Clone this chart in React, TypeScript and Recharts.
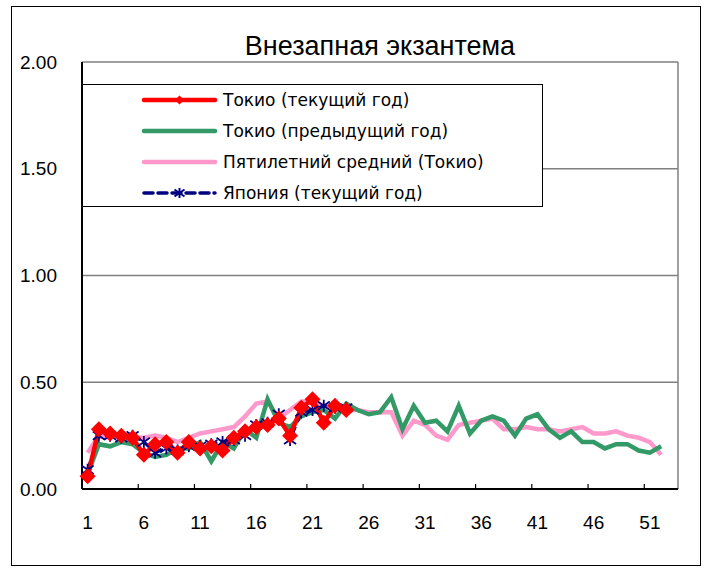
import React from 'react';
import { LineChart, Line, XAxis, YAxis, CartesianGrid, Legend } from 'recharts';

// ---- data ----
const WEEK_COUNT = 53;
const weeks: number[] = Array.from({ length: WEEK_COUNT }, (_, i) => i + 1);

const tokyoCurrent: number[] = [
  0.06, 0.28, 0.26, 0.25, 0.24, 0.16, 0.21, 0.22, 0.17, 0.22, 0.19, 0.2, 0.18, 0.24, 0.27, 0.29,
  0.3, 0.33, 0.25, 0.38, 0.42, 0.31, 0.39, 0.37,
];
const tokyoPrevious: number[] = [
  0.07, 0.21, 0.2, 0.22, 0.21, 0.17, 0.15, 0.16, 0.19, 0.19, 0.22, 0.13, 0.22, 0.19, 0.28, 0.24,
  0.42, 0.31, 0.29, 0.34, 0.36, 0.37, 0.33, 0.4, 0.37, 0.35, 0.36, 0.43, 0.28, 0.39, 0.31, 0.32,
  0.27, 0.39, 0.26, 0.32, 0.34, 0.32, 0.25, 0.33, 0.35, 0.28, 0.24, 0.27, 0.22, 0.22, 0.19, 0.21,
  0.21, 0.18, 0.17, 0.2,
];
const fiveYearAvg: number[] = [
  0.17, 0.25, 0.24, 0.26, 0.24, 0.24, 0.25, 0.24, 0.22, 0.24, 0.26, 0.27, 0.28, 0.29, 0.34, 0.4,
  0.41, 0.33, 0.37, 0.41, 0.41, 0.39, 0.38, 0.37, 0.37, 0.36, 0.36, 0.36, 0.25, 0.32, 0.3, 0.25,
  0.23, 0.3, 0.31, 0.32, 0.33, 0.28, 0.28, 0.29, 0.28, 0.28, 0.27, 0.28, 0.29, 0.26, 0.26, 0.27,
  0.25, 0.24, 0.22, 0.16,
];
const japanCurrent: number[] = [
  0.09, 0.25, 0.25, 0.24, 0.25, 0.22, 0.17, 0.19, 0.18, 0.2, 0.2, 0.21, 0.22, 0.23, 0.25, 0.3,
  0.31, 0.35, 0.23, 0.36, 0.37, 0.39, 0.38, 0.38,
];
const yTicks: number[] = [0, 0.5, 1, 1.5, 2];

const TITLE = 'Внезапная экзантема';
const NAME_CUR = 'Токио (текущий год)';
const NAME_PREV = 'Токио (предыдущий год)';
const NAME_AVG = 'Пятилетний средний (Токио)';
const NAME_JP = 'Япония (текущий год)';
const LEGEND_ORDER = ['cur', 'prev', 'avg', 'jp'];

const data = weeks.map((w, i) => ({
  week: w,
  cur: i < tokyoCurrent.length ? tokyoCurrent[i] : null,
  prev: i < tokyoPrevious.length ? tokyoPrevious[i] : null,
  avg: i < fiveYearAvg.length ? fiveYearAvg[i] : null,
  jp: i < japanCurrent.length ? japanCurrent[i] : null,
}));

// ---- layout ----
const W = 711;
const H = 569;
const PLOT_LEFT = 82;
const PLOT_RIGHT = 678;
const PLOT_TOP = 62;
const PLOT_BOTTOM = 489;
const Y_AXIS_W = 60;
const X_AXIS_H = 40;
const HALF_BAND = (PLOT_RIGHT - PLOT_LEFT) / WEEK_COUNT / 2;

const RED = '#FF0000';
const GREEN = '#339966';
const PINK = '#FF99CC';
const NAVY = '#000080';

const diamondPath = (cx: number, cy: number, r: number) =>
  `M${cx},${cy - r} L${cx + r},${cy} L${cx},${cy + r} L${cx - r},${cy} Z`;

const DiamondDot = (props: any) => {
  const { cx, cy, index } = props;
  if (cx == null || cy == null || props.value == null) return <g key={`d${index}`} />;
  return <path key={`d${index}`} d={diamondPath(cx, cy, 8)} fill={RED} stroke="none" />;
};

const starPath = (cx: number, cy: number, r: number) =>
  `M${cx},${cy - r} L${cx},${cy + r} M${cx - r},${cy - r * 0.7} L${cx + r},${cy + r * 0.7} M${cx - r},${cy + r * 0.7} L${cx + r},${cy - r * 0.7}`;

const StarDot = (props: any) => {
  const { cx, cy, index } = props;
  if (cx == null || cy == null || props.value == null) return <g key={`s${index}`} />;
  return <path key={`s${index}`} d={starPath(cx, cy, 6)} stroke={NAVY} strokeWidth={1.8} fill="none" />;
};

const XTick = (props: any) => {
  const { x, payload } = props;
  const tx = x - HALF_BAND;
  return (
    <g>
      <line x1={tx} x2={tx} y1={PLOT_BOTTOM} y2={PLOT_BOTTOM - 5} stroke="#000" strokeWidth={1.2} />
      <text
        x={x}
        y={PLOT_BOTTOM + 33}
        textAnchor="middle"
        dominantBaseline="central"
        fontFamily="'Liberation Sans', Arial, sans-serif"
        fontSize={19}
        fill="#000"
      >
        {payload.value}
      </text>
    </g>
  );
};

const SERIES_STYLE: Record<string, any> = {
  cur: { color: RED, width: 4.5, dash: undefined, marker: 'diamond' },
  prev: { color: GREEN, width: 4.5, dash: undefined, marker: 'none' },
  avg: { color: PINK, width: 4.5, dash: undefined, marker: 'none' },
  jp: { color: NAVY, width: 3.5, dash: '9 5', marker: 'star' },
};

const LegendContent = (props: any) => {
  const payload = [...(props.payload || [])].sort(
    (a: any, b: any) => LEGEND_ORDER.indexOf(a.dataKey) - LEGEND_ORDER.indexOf(b.dataKey)
  );
  return (
    <div style={{ position: 'relative', width: '100%', height: '100%' }}>
      {payload.map((p: any, i: number) => {
        const s = SERIES_STYLE[p.dataKey];
        const cy = 15 + 31 * i;
        return (
          <div key={p.dataKey} style={{ position: 'absolute', left: 0, top: cy - 12, height: 24, width: '100%' }}>
            <svg width={140} height={24} style={{ position: 'absolute', left: 0, top: 0 }}>
              <line
                x1={61}
                x2={132}
                y1={12}
                y2={12}
                stroke={s.color}
                strokeWidth={s.width}
                strokeDasharray={s.dash}
                strokeLinecap="round"
              />
              {s.marker === 'diamond' && <path d={diamondPath(96.5, 12, 4.5)} fill={s.color} />}
              {s.marker === 'star' && (
                <path d={starPath(96.5, 12, 5)} stroke={s.color} strokeWidth={2} fill="none" />
              )}
            </svg>
            <span
              style={{
                position: 'absolute',
                left: 140,
                top: 0,
                lineHeight: '24px',
                fontFamily: "'DejaVu Sans', sans-serif",
                fontSize: 17,
                color: '#000',
                whiteSpace: 'nowrap',
              }}
            >
              {p.value}
            </span>
          </div>
        );
      })}
    </div>
  );
};

export default function App() {
  return (
    <div style={{ position: 'absolute', left: 0, top: 0, width: W, height: H, background: '#fff' }}>
      <div
        style={{
          position: 'absolute',
          left: 11,
          top: 6,
          width: 690,
          height: 560,
          border: '1px solid #000',
          boxSizing: 'border-box',
        }}
      />
      <div
        style={{
          position: 'absolute',
          left: PLOT_LEFT,
          width: PLOT_RIGHT - PLOT_LEFT,
          top: 29,
          height: 34,
          lineHeight: '34px',
          textAlign: 'center',
          fontFamily: "'Liberation Sans', Arial, sans-serif",
          fontSize: 27,
          color: '#000',
        }}
      >
        {TITLE}
      </div>
      <div style={{ position: 'absolute', left: 0, top: 0 }}>
        <LineChart
          width={W}
          height={H}
          data={data}
          margin={{
            top: PLOT_TOP,
            left: PLOT_LEFT - Y_AXIS_W,
            right: W - PLOT_RIGHT,
            bottom: H - PLOT_BOTTOM - X_AXIS_H,
          }}
        >
          <CartesianGrid
            horizontal={true}
            vertical={true}
            stroke="#808080"
            strokeWidth={1.5}
            verticalCoordinatesGenerator={(p: any) => [p.offset.left + p.offset.width]}
          />
          <XAxis
            dataKey="week"
            type="category"
            height={X_AXIS_H}
            interval={4}
            padding={{ left: HALF_BAND, right: HALF_BAND }}
            axisLine={{ stroke: '#000', strokeWidth: 2 }}
            tickLine={false}
            tickSize={0}
            tickMargin={0}
            tick={<XTick />}
          />
          <YAxis
            type="number"
            domain={[0, 2]}
            ticks={yTicks}
            width={Y_AXIS_W}
            axisLine={{ stroke: '#000', strokeWidth: 2 }}
            tickLine={false}
            tickSize={0}
            tickMargin={25}
            tickFormatter={(v: number) => v.toFixed(2)}
            tick={{ fontFamily: "'Liberation Sans', Arial, sans-serif", fontSize: 19, fill: '#000' }}
          />
          <Legend
            layout="horizontal"
            verticalAlign="middle"
            align="center"
            content={<LegendContent />}
            wrapperStyle={{
              left: PLOT_LEFT,
              top: 84,
              width: 461,
              height: 123,
              border: '1px solid #000',
              background: '#fff',
              boxSizing: 'border-box',
              margin: 0,
            }}
          />
          <Line
            dataKey="avg"
            name={NAME_AVG}
            stroke={PINK}
            strokeWidth={4.5}
            dot={false}
            activeDot={false}
            isAnimationActive={false}
          />
          <Line
            dataKey="prev"
            name={NAME_PREV}
            stroke={GREEN}
            strokeWidth={4.5}
            dot={false}
            activeDot={false}
            isAnimationActive={false}
          />
          <Line
            dataKey="jp"
            name={NAME_JP}
            stroke={NAVY}
            strokeWidth={3}
            strokeDasharray="9 5"
            dot={(p: any) => <StarDot {...p} />}
            activeDot={false}
            isAnimationActive={false}
          />
          <Line
            dataKey="cur"
            name={NAME_CUR}
            stroke={RED}
            strokeWidth={4.5}
            dot={(p: any) => <DiamondDot {...p} />}
            activeDot={false}
            isAnimationActive={false}
          />
        </LineChart>
      </div>
    </div>
  );
}
